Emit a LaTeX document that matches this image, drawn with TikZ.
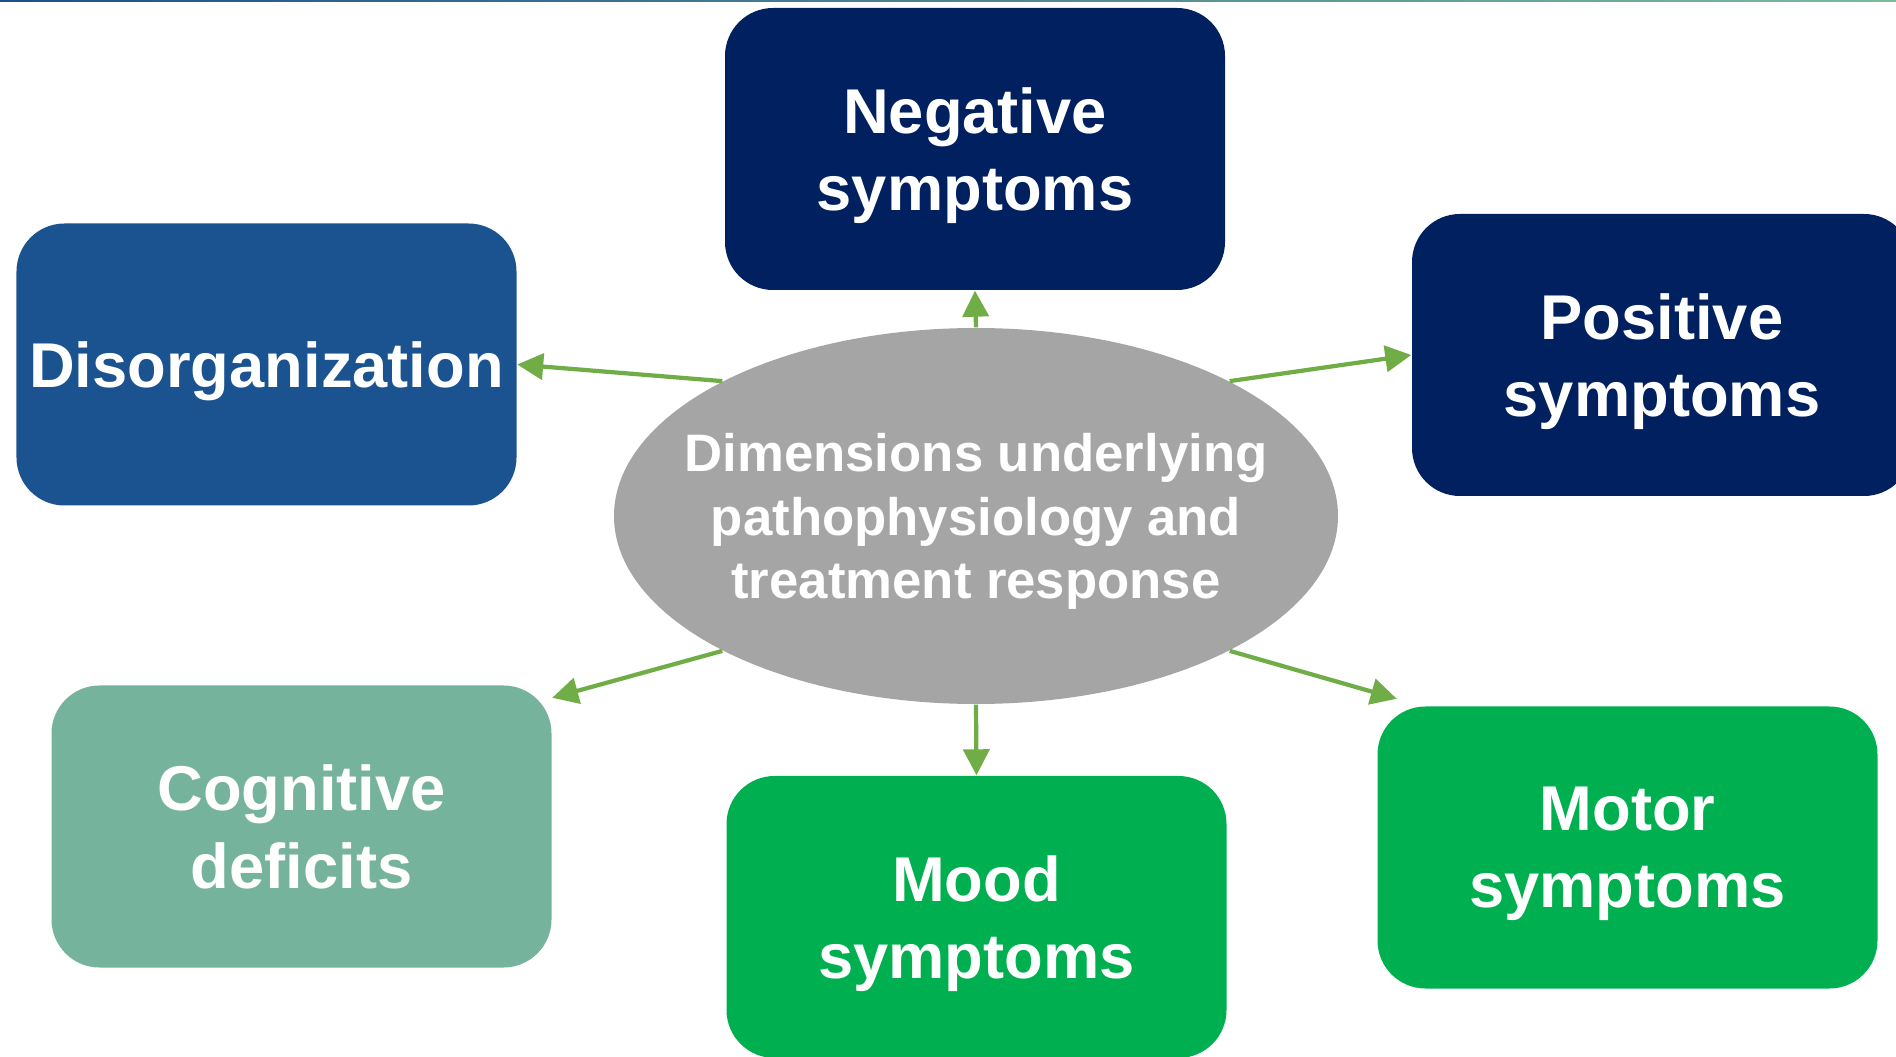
\documentclass[tikz,border=0pt]{standalone}
\usepackage{fontspec}
\setmainfont{Liberation Sans}
\usetikzlibrary{shapes.geometric,arrows.meta}

\definecolor{navy}{HTML}{002060}
\definecolor{disblue}{HTML}{1B5290}
\definecolor{cogteal}{HTML}{76B39D}
\definecolor{moodgreen}{HTML}{00B050}
\definecolor{centergray}{HTML}{A5A5A5}
\definecolor{arrowgreen}{HTML}{70AD47}
\definecolor{lineblue}{HTML}{1F4E8C}
\definecolor{linegreen}{HTML}{7DB99C}

\tikzset{
  dimbox/.style={rectangle, rounded corners=0.48cm, minimum width=5cm, minimum height=2.82cm,
    inner sep=0pt, align=center, text=white, text depth=0pt, font=\bfseries\fontsize{18}{22}\selectfont},
  link/.style={arrowgreen, line width=1.2pt, -{Triangle[length=0.26cm, width=0.26cm]}}
}

\begin{document}
\begin{tikzpicture}
\useasboundingbox (0,0) rectangle (18.96,10.56);
\fill [white] (0,0) rectangle (18.96,10.56);
\shade [left color=lineblue, right color=linegreen] (0,10.54) rectangle (18.96,10.56);

\node [dimbox, fill=navy] (neg) at (9.75,9.07) {Negative\\symptoms};
\node [dimbox, fill=disblue] (dis) at (2.665,6.915) {Disorganization};
\node [dimbox, fill=navy] (pos) at (16.62,7.01) {Positive\\symptoms};
\node [dimbox, fill=cogteal] (cog) at (3.015,2.295) {Cognitive\\deficits};
\node [dimbox, fill=moodgreen] (mood) at (9.765,1.39) {Mood\\symptoms};
\node [dimbox, fill=moodgreen] (mot) at (16.275,2.085) {Motor\\symptoms};

\node [ellipse, fill=centergray, minimum width=7.24cm, minimum height=3.76cm, inner sep=0pt,
  label={[align=center, text=white, text depth=0pt, font=\bfseries\fontsize{15}{18}\selectfont]center:
  Dimensions underlying\\pathophysiology and\\treatment response}] (dim) at (9.76,5.40) {};

\draw [link] (dim.north) -- (neg.south);
\draw [link] (dim.152) -- (dis.east);
\draw [link] (dim.28) -- (pos.west);
\draw [link] (dim.208) -- ([yshift=-1.3mm]cog.north east);
\draw [link] (dim.south) -- (mood.north);
\draw [link] (dim.332) -- ([xshift=2mm,yshift=0.7mm]mot.north west);
\end{tikzpicture}
\end{document}
